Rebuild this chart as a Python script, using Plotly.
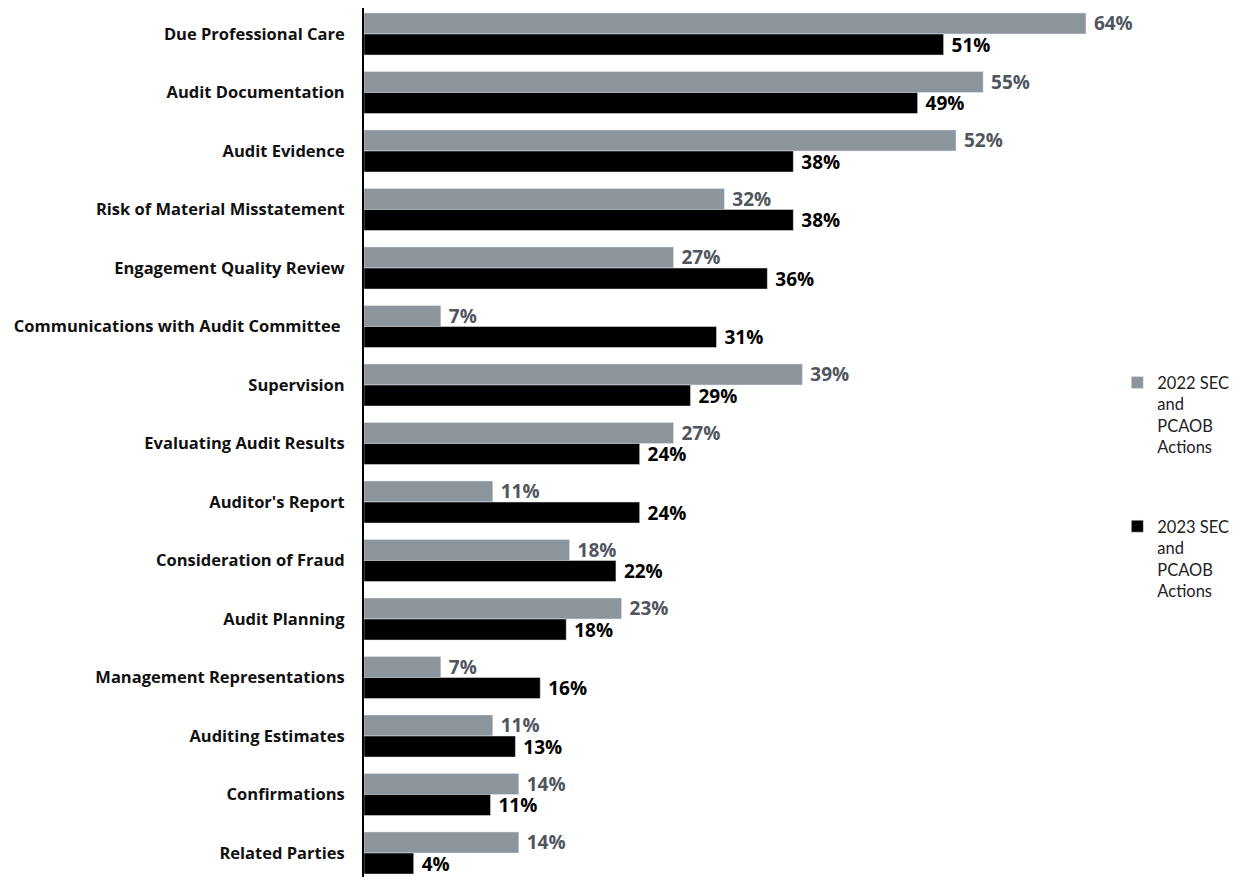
import plotly.graph_objects as go

categories = [
    "Due Professional Care", "Audit Documentation", "Audit Evidence",
    "Risk of Material Misstatement", "Engagement Quality Review",
    "Communications with Audit Committee ", "Supervision",
    "Evaluating Audit Results", "Auditor's Report", "Consideration of Fraud",
    "Audit Planning", "Management Representations", "Auditing Estimates",
    "Confirmations", "Related Parties",
]
values_2022 = [63.9, 54.8, 52.4, 31.9, 27.4, 6.8, 38.8, 27.4, 11.4, 18.2, 22.8, 6.8, 11.4, 13.7, 13.7]
values_2023 = [51.3, 49.0, 38.0, 38.0, 35.7, 31.2, 28.9, 24.4, 24.4, 22.3, 17.9, 15.6, 13.4, 11.2, 4.4]
series_names = ["2022 SEC<br>and<br>PCAOB<br>Actions", "2023 SEC<br>and<br>PCAOB<br>Actions"]

GRAY = "#8c949c"
GRAY_TXT = "#4f5660"
NB = "\u00a0"

fig = go.Figure()
fig.add_trace(go.Bar(
    y=categories, x=values_2022, orientation="h", name=series_names[0],
    legendgroup="a",
    marker=dict(color=GRAY), texttemplate=NB + "%{x:.0f}%", textposition="outside",
    textfont=dict(family="Open Sans", size=19, color=GRAY_TXT, weight="bold"),
    constraintext="none", cliponaxis=False,
))
fig.add_trace(go.Bar(
    y=categories, x=values_2023, orientation="h", name=series_names[1],
    legendgroup="b",
    marker=dict(color="#000000"), texttemplate=NB + "%{x:.0f}%", textposition="outside",
    textfont=dict(family="Open Sans", size=19, color="#000000", weight="bold"),
    constraintext="none", cliponaxis=False,
))

fig.update_layout(
    width=1235, height=869,
    margin=dict(l=356, r=0, t=0, b=0, autoexpand=False),
    paper_bgcolor="white", plot_bgcolor="white",
    barmode="group", bargap=0.28, bargroupgap=0,
    xaxis=dict(range=[0, 77.8], visible=False, fixedrange=True),
    yaxis=dict(
        range=[14.41, -0.444], showline=True, linecolor="black", linewidth=2,
        ticks="", showgrid=False, ticklabelstandoff=14, fixedrange=True,
        tickfont=dict(family="Open Sans", size=16.5, color="#111111", weight="bold"),
    ),
    uniformtext=dict(mode=False),
    legend=dict(
        x=0.857, y=0.589, xanchor="left", yanchor="top",
        font=dict(family="Lato", size=16.5, color="#222222"),
        valign="top", tracegroupgap=55, itemwidth=30, traceorder="grouped",
        bgcolor="rgba(0,0,0,0)",
    ),
    showlegend=True,
)

fig.write_html("out.html")
